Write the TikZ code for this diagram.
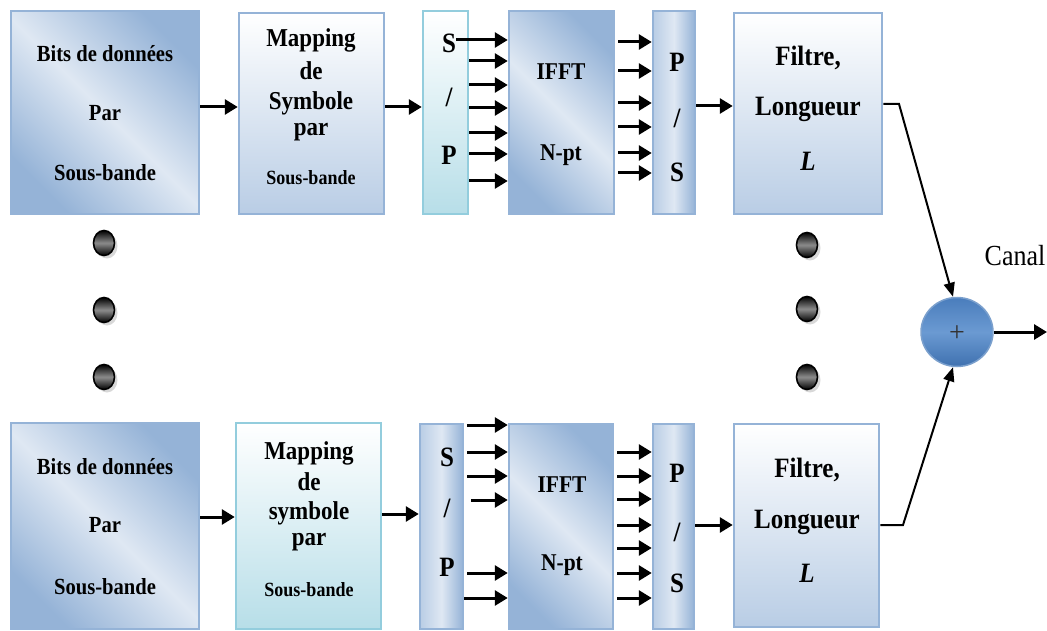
\documentclass[tikz,border=0pt]{standalone}
\usepackage{fontspec}
\setmainfont{Liberation Serif}
\usetikzlibrary{arrows.meta,shapes.geometric,shadows}
\definecolor{bblue}{HTML}{95B3D7}
\definecolor{dblue}{HTML}{95B3D7}
\definecolor{lblue}{HTML}{DFE8F3}
\definecolor{mblue}{HTML}{B9CDE5}
\definecolor{cyanf}{HTML}{B7DEE8}
\definecolor{cyanb}{HTML}{93CDDD}
\definecolor{sumtop}{HTML}{4A7DBC}
\definecolor{summid}{HTML}{6B9AD2}
\definecolor{sumbot}{HTML}{3F71B0}
\definecolor{sumbord}{HTML}{7BA0CD}
\newcommand\fsb[1]{\fontsize{#1}{#1}\selectfont\bfseries}
\newcommand\T[1]{\scalebox{1}[1.12]{#1}}
\begin{document}
\begin{tikzpicture}[x=1pt,y=-1pt,
  boxbase/.style={rectangle, draw=bblue, line width=2.5pt, inner sep=0pt},
  diagbox/.style={boxbase, left color=dblue, right color=dblue, middle color=lblue, shading angle=-45},
  horbox/.style={boxbase, left color=mblue, right color=dblue, middle color=lblue},
  vertbox/.style={boxbase, top color=white, bottom color=mblue},
  cyanbox/.style={boxbase, draw=cyanb, top color=white, bottom color=cyanf},
  txt/.style={inner sep=0pt, text=black},
  arr/.style={line width=3pt, -{Triangle[length=13pt,width=15pt]}},
  lnk/.style={line width=2pt, -{Triangle[length=14pt,width=11pt]}},
  dot/.style={ellipse, draw=black, line width=1.6pt, minimum width=21pt, minimum height=25pt, inner sep=0pt,
    top color=black, bottom color=black, middle color=black!45,
    drop shadow={shadow xshift=3pt, shadow yshift=-3pt, fill=black!30}},
]
\useasboundingbox (0,0) rectangle (1047,631);

% ---------- top row ----------
\node[diagbox, minimum width=188pt, minimum height=203pt] (b1) at (105,112.5) {};
\node[vertbox, minimum width=145pt, minimum height=201pt] (m1) at (311.5,113.5) {};
\node[cyanbox, minimum width=45pt, minimum height=203pt] (sp1) at (445.5,112.5) {};
\node[diagbox, minimum width=105pt, minimum height=203pt] (ff1) at (561.5,112.5) {};
\node[horbox, minimum width=42pt, minimum height=203pt] (ps1) at (674,112.5) {};
\node[vertbox, minimum width=148pt, minimum height=201pt] (f1) at (808,113.5) {};

\node[txt, font=\fsb{20.6}] (b1a) at (105,54) {\T{Bits de données}};
\node[txt, font=\fsb{20.6}] (b1b) at (105,113) {\T{Par}};
\node[txt, font=\fsb{20.6}] (b1c) at (105,173) {\T{Sous-bande}};

\node[txt, font=\fsb{23}] (m1a) at (311,40) {\T{Mapping}};
\node[txt, font=\fsb{23}] (m1b) at (311,71) {\T{de}};
\node[txt, font=\fsb{23}] (m1c) at (311,103) {\T{Symbole}};
\node[txt, font=\fsb{23}] (m1d) at (311,132) {\T{par}};
\node[txt, font=\fsb{18}] (m1e) at (311,178) {\T{Sous-bande}};

\node[txt, font=\fsb{25}] (sp1a) at (449,43) {\T{S}};
\node[txt, font=\fsb{25}] (sp1b) at (449,97) {\T{/}};
\node[txt, font=\fsb{25}] (sp1c) at (449,155) {\T{P}};

\node[txt, font=\fsb{21.5}] (ff1a) at (561,72) {\T{IFFT}};
\node[txt, font=\fsb{21.5}] (ff1b) at (561,155) {\T{N-pt}};

\node[txt, font=\fsb{25}] (ps1a) at (677,62) {\T{P}};
\node[txt, font=\fsb{25}] (ps1b) at (677,118) {\T{/}};
\node[txt, font=\fsb{25}] (ps1c) at (677,172) {\T{S}};

\node[txt, font=\fsb{25}] (f1a) at (808,58) {\T{Filtre,}};
\node[txt, font=\fsb{25}] (f1b) at (808,109) {\T{Longueur}};
\node[txt, font=\fsb{25}\itshape] (f1c) at (808,161) {\T{L}};

% ---------- bottom row ----------
\node[diagbox, minimum width=188pt, minimum height=206pt] (b2) at (105,526) {};
\node[cyanbox, minimum width=145pt, minimum height=206pt] (m2) at (308.5,526) {};
\node[horbox, minimum width=43pt, minimum height=205pt] (sp2) at (441.5,526.5) {};
\node[diagbox, minimum width=104pt, minimum height=205pt] (ff2) at (561,526.5) {};
\node[horbox, minimum width=41pt, minimum height=205pt] (ps2) at (673.5,526.5) {};
\node[vertbox, minimum width=145pt, minimum height=203pt] (f2) at (806.5,525.5) {};

\node[txt, font=\fsb{20.6}] (b2a) at (105,467) {\T{Bits de données}};
\node[txt, font=\fsb{20.6}] (b2b) at (105,525) {\T{Par}};
\node[txt, font=\fsb{20.6}] (b2c) at (105,587) {\T{Sous-bande}};

\node[txt, font=\fsb{23}] (m2a) at (309,453) {\T{Mapping}};
\node[txt, font=\fsb{23}] (m2b) at (309,482) {\T{de}};
\node[txt, font=\fsb{23}] (m2c) at (309,513) {\T{symbole}};
\node[txt, font=\fsb{23}] (m2d) at (309,542) {\T{par}};
\node[txt, font=\fsb{18}] (m2e) at (309,590) {\T{Sous-bande}};

\node[txt, font=\fsb{25}] (sp2a) at (447,457) {\T{S}};
\node[txt, font=\fsb{25}] (sp2b) at (447,508) {\T{/}};
\node[txt, font=\fsb{25}] (sp2c) at (447,567) {\T{P}};

\node[txt, font=\fsb{21.5}] (ff2a) at (562,485) {\T{IFFT}};
\node[txt, font=\fsb{21.5}] (ff2b) at (562,565) {\T{N-pt}};

\node[txt, font=\fsb{25}] (ps2a) at (677,473) {\T{P}};
\node[txt, font=\fsb{25}] (ps2b) at (677,532) {\T{/}};
\node[txt, font=\fsb{25}] (ps2c) at (677,583) {\T{S}};

\node[txt, font=\fsb{25}] (f2a) at (807,470) {\T{Filtre,}};
\node[txt, font=\fsb{25}] (f2b) at (807,522) {\T{Longueur}};
\node[txt, font=\fsb{25}\itshape] (f2c) at (807,573) {\T{L}};

% ---------- dots ----------
\node[dot] (dl1) at (104,243) {};
\node[dot] (dl2) at (104,310) {};
\node[dot] (dl3) at (104,377) {};
\node[dot] (dr1) at (807,245) {};
\node[dot] (dr2) at (807,309) {};
\node[dot] (dr3) at (807,377) {};

% ---------- summation ----------
\node[ellipse, draw=sumbord, line width=1.5pt, minimum width=72pt, minimum height=69pt, inner sep=0pt,
  top color=sumtop, bottom color=sumbot, middle color=summid] (sum) at (957,332) {};
\node[txt, font=\fontsize{28}{28}\selectfont, text=black!80] (plus) at (957,334) {+};
\node[txt, font=\fontsize{26}{26}\selectfont] (canal) at (1015,256) {\T{Canal}};
\coordinate (out) at (1047,332);

% ---------- arrows top ----------
\draw[arr] (b1.east |- 0,107) -- (m1.west |- 0,107);
\draw[arr] (m1.east |- 0,107) -- (sp1.west |- 0,107);
\draw[arr] (sp1a.east |- 0,40) -- (ff1.west |- 0,40);
\foreach \y in {61,85,108,133,154,181}
  \draw[arr] (sp1.east |- 0,\y) -- (ff1.west |- 0,\y);
\foreach \y in {42,71,103,127,153,173}
  \draw[arr] ([xshift=3pt]ff1.east |- 0,\y) -- (ps1.west |- 0,\y);
\draw[arr] (ps1.east |- 0,106) -- (f1.west |- 0,106);

% ---------- arrows bottom ----------
\draw[arr] (b2.east |- 0,517) -- (m2.west |- 0,517);
\draw[arr] (m2.east |- 0,514) -- (sp2.west |- 0,514);
\foreach \y in {425,452,476}
  \draw[arr] ([xshift=3pt]sp2.east |- 0,\y) -- (ff2.west |- 0,\y);
\draw[arr] ([xshift=7pt]sp2.east |- 0,500) -- (ff2.west |- 0,500);
\draw[arr] ([xshift=3pt]sp2.east |- 0,573) -- (ff2.west |- 0,573);
\draw[arr] (sp2.east |- 0,598) -- (ff2.west |- 0,598);
\foreach \y in {452,476,499,525,548,573,598}
  \draw[arr] ([xshift=3pt]ff2.east |- 0,\y) -- (ps2.west |- 0,\y);
\draw[arr] (ps2.east |- 0,525) -- (f2.west |- 0,525);

% ---------- to summation ----------
\coordinate (k1) at (899,104);
\coordinate (k2) at (903,525);
\draw[lnk] (f1.east |- 0,104) -- (k1) -- ([xshift=-4pt]sum.north);
\draw[lnk] (f2.east |- 0,525) -- (k2) -- ([xshift=-4pt]sum.south);
\draw[arr] (sum.east) -- (out);
\end{tikzpicture}
\end{document}
